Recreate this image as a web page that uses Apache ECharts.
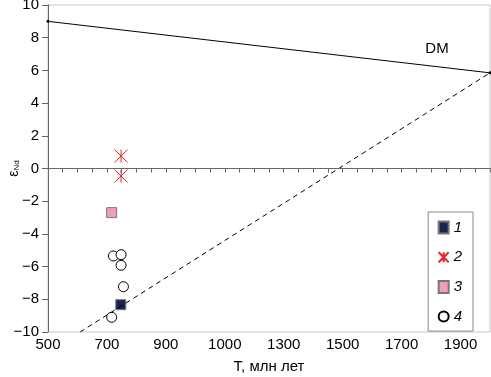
<!DOCTYPE html>
<html>
<head>
<meta charset="utf-8">
<script src="https://cdn.jsdelivr.net/npm/echarts@6/dist/echarts.min.js"></script>
<style>
  html, body { margin: 0; padding: 0; background: #fff; }
  #chart { width: 491px; height: 377px; }
</style>
</head>
<body>
<div id="chart"></div>
<script>
// tick labels as printed in the source figure (note the "1000" at 1100)
const tickValues = [500, 700, 900, 1100, 1300, 1500, 1700, 1900];
const tickLabels = ["500", "700", "900", "1000", "1300", "1500", "1700", "1900"];

// reference lines
const dmLine = [[500, 9.0], [2000, 5.85]];
const crustLine = [[609, -10], [2000, 5.85]];

// samples
const group1 = [[747, -8.33]];
const group2 = [[748, 0.76], [748, -0.46]];
const group3 = [[716, -2.7]];
const group4 = [[722, -5.35], [748, -5.27], [748, -5.92], [756, -7.23], [716, -9.1]];

const font = "Liberation Sans, Arial, sans-serif";
const starPath = "path://M0,0L10,10M10,0L0,10M5,0L5,10";

var myChart = echarts.init(document.getElementById("chart"));
myChart.setOption({
  animation: false,
  textStyle: { fontFamily: font },
  grid: {
    left: 48, right: 1, top: 5, bottom: 45,
    outerBoundsMode: "none", containLabel: false,
    show: true, borderColor: "#c8c8c8", borderWidth: 1,
  },
  xAxis: {
    type: "value",
    min: 500,
    max: 2000,
    interval: 50,
    name: "T, млн лет",
    nameLocation: "middle",
    nameGap: 27,
    nameMoveOverlap: false,
    nameTextStyle: { color: "#000", fontSize: 15, fontFamily: font, verticalAlign: "top" },
    axisLine: { lineStyle: { color: "#666" } },
    axisTick: { length: 4, lineStyle: { color: "#666" } },
    splitLine: { show: false },
    axisLabel: {
      color: "#000",
      fontSize: 15,
      margin: 5,
      hideOverlap: false,
      formatter(val) {
        const i = tickValues.indexOf(val);
        return i >= 0 ? tickLabels[i] : "";
      },
    },
  },
  yAxis: {
    type: "value",
    min: -10,
    max: 10,
    interval: 2,
    name: "{e|ε}{s|Nd}",
    nameLocation: "middle",
    nameRotate: 90,
    nameGap: 27,
    nameMoveOverlap: false,
    nameTextStyle: {
      color: "#000",
      rich: {
        e: { fontSize: 14, fontFamily: font, color: "#000" },
        s: { fontSize: 8, fontFamily: font, color: "#000", verticalAlign: "bottom", padding: [6, 0, 0, 0] },
      },
    },
    axisLine: { lineStyle: { color: "#666" } },
    axisTick: { length: 6, lineStyle: { color: "#666" } },
    splitLine: { show: false },
    axisLabel: {
      color: "#000",
      fontSize: 15,
      margin: 9,
      formatter(val) {
        return String(val).replace("-", "\u2212");
      },
    },
  },
  legend: {
    data: ["1", "2", "3", "4"],
    orient: "vertical",
    right: 18,
    top: 212,
    borderColor: "#888",
    borderWidth: 1,
    borderRadius: 0,
    padding: [8, 11, 7, 8],
    itemGap: 14.7,
    itemWidth: 10,
    itemHeight: 12,
    itemTextGap: 6,
    textStyle: { fontSize: 15, lineHeight: 12, fontStyle: "italic", color: "#000", fontFamily: font },
  },
  series: [
    {
      name: "DM",
      type: "line",
      data: dmLine,
      symbol: "circle",
      symbolSize: 3,
      itemStyle: { color: "#000" },
      lineStyle: { color: "#000", width: 1 },
      markLine: {
        silent: true,
        symbol: "none",
        label: { show: false },
        lineStyle: { color: "#666", width: 1.2, type: "solid" },
        data: [{ yAxis: 0 }],
      },
      markPoint: {
        symbol: "circle",
        symbolSize: 0,
        label: { show: true, formatter: "DM", color: "#000", fontSize: 15, fontFamily: font },
        data: [{ coord: [1820, 7.3] }],
      },
    },
    {
      name: "crust",
      type: "line",
      data: crustLine,
      symbol: "none",
      lineStyle: { color: "#000", width: 1, type: [5, 4] },
    },
    {
      name: "4",
      type: "scatter",
      data: group4,
      symbol: "circle",
      symbolSize: 10,
      itemStyle: { color: "#fff", borderColor: "#000", borderWidth: 1, opacity: 1 },
    },
    {
      name: "1",
      type: "scatter",
      data: group1,
      symbol: "rect",
      symbolSize: 10,
      itemStyle: { color: "#1b2350", borderColor: "#777", borderWidth: 1, opacity: 1 },
    },
    {
      name: "2",
      type: "scatter",
      data: group2,
      symbol: starPath,
      symbolSize: 13,
      itemStyle: { color: "none", borderColor: "#e8232a", borderWidth: 1, opacity: 1 },
    },
    {
      name: "3",
      type: "scatter",
      data: group3,
      symbol: "rect",
      symbolSize: 10,
      itemStyle: { color: "#f29cc2", borderColor: "#777", borderWidth: 1, opacity: 1 },
    },
  ],
});
</script>
</body>
</html>
